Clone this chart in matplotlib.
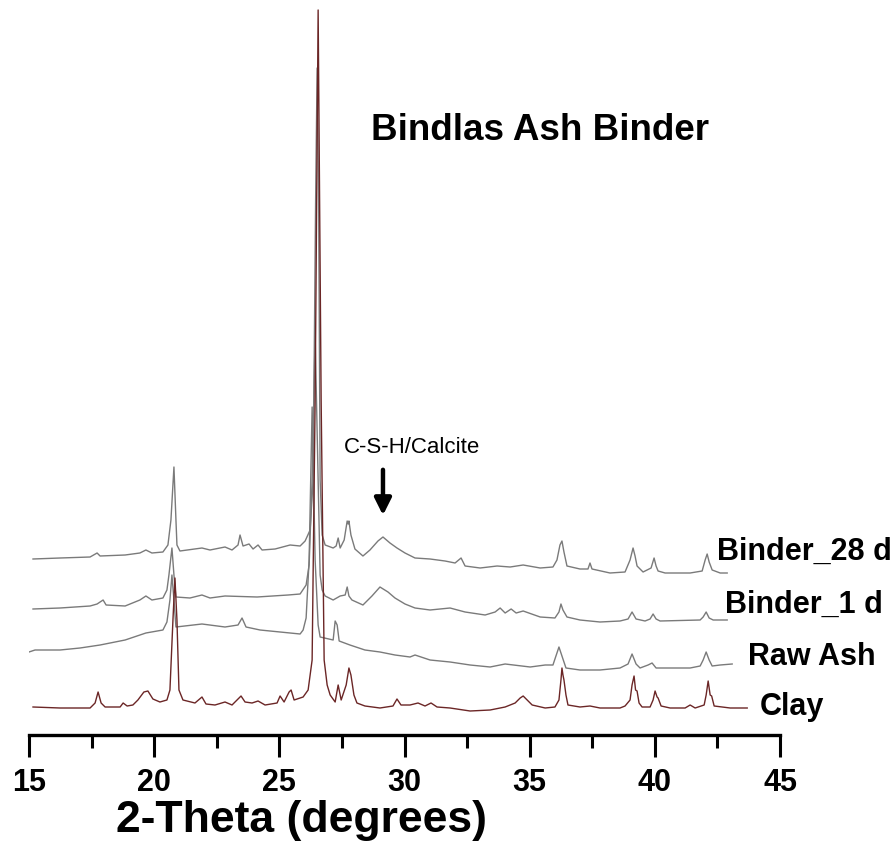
import matplotlib
matplotlib.use('Agg')
import matplotlib.pyplot as plt

plt.rcParams['font.family'] = ['Liberation Sans', 'DejaVu Sans']

# XRD patterns (2-theta in degrees, intensity in a.u., already offset for stacking)
b28_tt = [15.16, 16.24, 17.44, 17.72, 17.84, 18.84, 19.43, 19.67, 19.91, 20.35, 20.55, 20.67, 20.79, 20.87, 20.91,
          21.03, 21.91, 22.23, 22.83, 23.11, 23.35, 23.43, 23.55, 23.79, 23.95, 24.15, 24.31, 24.83, 25.43, 25.83,
          26.03, 26.23, 26.35, 26.45, 26.51, 26.57, 26.63, 26.71, 26.83, 27.15, 27.27, 27.35, 27.43, 27.59, 27.71,
          27.75, 27.78, 27.86, 28.02, 28.34, 28.62, 28.94, 29.14, 29.42, 29.70, 30.02, 30.42, 31.02, 31.62, 32.02,
          32.26, 32.42, 33.02, 33.70, 34.22, 34.74, 35.42, 35.93, 36.09, 36.21, 36.29, 36.37, 36.49, 37.01, 37.33,
          37.41, 37.49, 38.21, 38.81, 39.01, 39.13, 39.21, 39.29, 39.53, 39.85, 39.97, 40.05, 40.13, 40.41, 41.41,
          41.89, 42.01, 42.09, 42.17, 42.29, 42.61, 42.89]
b28_i = [176, 177, 178, 182, 179, 180, 182, 185, 182, 183, 190, 215, 268, 215, 190,
         184, 187, 185, 188, 185, 190, 200, 189, 191, 186, 190, 185, 186, 190, 189,
         194, 205, 255, 535, 667, 535, 255, 200, 190, 187, 189, 197, 187, 195, 214,
         211, 214, 200, 186, 179, 185, 194, 198, 192, 187, 182, 177, 176, 174, 172,
         177, 169, 167, 169, 168, 170, 167, 168, 175, 190, 194, 183, 169, 166, 166,
         172, 166, 162, 163, 175, 187, 179, 169, 163, 167, 177, 169, 164, 162, 162,
         164, 175, 181, 173, 165, 162, 162]

b1_tt = [15.16, 16.24, 17.44, 17.72, 17.96, 18.08, 18.84, 19.43, 19.67, 19.91, 20.35, 20.51, 20.59, 20.71, 20.79,
         20.87, 21.43, 21.91, 22.23, 22.83, 24.11, 25.35, 25.83, 26.07, 26.19, 26.31, 26.43, 26.55, 26.63, 26.71,
         26.83, 27.15, 27.43, 27.63, 27.71, 27.78, 27.90, 28.34, 28.70, 29.02, 29.34, 29.62, 30.02, 30.42, 31.02,
         31.82, 32.42, 33.22, 33.62, 33.82, 34.02, 34.26, 34.46, 34.74, 35.42, 36.01, 36.17, 36.25, 36.33, 36.49,
         37.01, 37.81, 38.61, 38.93, 39.09, 39.25, 39.61, 39.81, 39.93, 40.05, 40.21, 41.81, 41.93, 42.05, 42.17,
         42.33, 42.89]
b1_i = [126, 127, 129, 131, 135, 130, 129, 135, 139, 135, 137, 145, 160, 187, 160,
        138, 137, 140, 137, 139, 138, 140, 141, 150, 170, 255, 400, 255, 160, 145,
        139, 135, 139, 140, 148, 139, 135, 130, 139, 148, 143, 137, 131, 127, 125,
        127, 123, 120, 123, 127, 122, 126, 122, 124, 118, 117, 123, 131, 125, 118,
        115, 113, 114, 116, 123, 116, 114, 116, 121, 116, 114, 115, 118, 123, 117,
        115, 115]

raw_tt = [15.0, 15.24, 16.24, 17.04, 17.84, 18.84, 19.67, 20.35, 20.51, 20.63, 20.71, 20.79, 20.87, 21.91, 22.83,
          23.35, 23.51, 23.67, 24.23, 25.43, 25.83, 25.95, 26.07, 26.19, 26.31, 26.43, 26.55, 26.63, 27.15, 27.23,
          27.31, 27.39, 27.82, 28.42, 29.02, 29.62, 30.22, 30.42, 31.02, 31.82, 32.62, 33.42, 34.02, 35.02, 35.62,
          35.93, 36.05, 36.17, 36.29, 36.45, 37.01, 37.81, 38.61, 38.93, 39.09, 39.25, 39.41, 39.73, 39.89, 40.05,
          41.41, 41.81, 41.93, 42.05, 42.17, 42.29, 42.61, 43.09]
raw_i = [83, 85, 85, 87, 90, 95, 102, 105, 113, 135, 160, 135, 108, 111, 108,
         110, 117, 108, 105, 102, 101, 105, 117, 175, 328, 175, 110, 98, 95, 114,
         110, 94, 90, 85, 83, 80, 78, 80, 75, 73, 70, 68, 71, 68, 70,
         70, 79, 88, 79, 67, 65, 65, 67, 71, 81, 71, 67, 70, 72, 67,
         67, 69, 75, 83, 75, 69, 70, 71]

clay_tt = [15.16, 16.24, 17.44, 17.64, 17.76, 17.88, 18.04, 18.64, 18.76, 18.92, 19.15, 19.35, 19.59, 19.75, 19.95,
           20.23, 20.51, 20.63, 20.75, 20.83, 20.91, 20.99, 21.15, 21.63, 21.91, 22.07, 22.43, 22.83, 23.11, 23.47,
           23.63, 23.91, 24.15, 24.43, 24.91, 25.03, 25.19, 25.39, 25.47, 25.59, 25.95, 26.15, 26.31, 26.43, 26.55,
           26.67, 26.79, 26.91, 27.03, 27.23, 27.35, 27.47, 27.55, 27.67, 27.78, 27.86, 27.98, 28.10, 28.42, 29.02,
           29.54, 29.70, 29.86, 30.22, 30.54, 30.82, 31.06, 31.30, 31.82, 32.62, 33.42, 34.02, 34.42, 34.62, 34.74,
           34.90, 35.10, 35.62, 36.01, 36.17, 36.25, 36.29, 36.33, 36.37, 36.45, 36.53, 37.01, 37.41, 37.81, 38.61,
           38.81, 39.01, 39.09, 39.17, 39.23, 39.29, 39.37, 39.49, 39.81, 39.93, 40.01, 40.09, 40.13, 40.25, 40.61,
           41.21, 41.41, 41.61, 41.97, 42.05, 42.13, 42.21, 42.27, 42.37, 43.01, 43.69]
clay_i = [28, 27, 27, 32, 43, 32, 28, 28, 32, 29, 30, 35, 43, 44, 36,
          33, 35, 45, 115, 157, 115, 45, 35, 32, 38, 31, 30, 33, 30, 39,
          33, 32, 34, 30, 32, 39, 33, 43, 45, 35, 38, 45, 75, 335, 725,
          335, 75, 50, 40, 33, 50, 35, 41, 50, 67, 60, 40, 32, 29, 27,
          29, 36, 30, 30, 32, 29, 32, 28, 27, 24, 25, 28, 32, 37, 39,
          35, 30, 27, 28, 35, 55, 67, 60, 55, 40, 30, 28, 29, 27, 27,
          29, 35, 50, 59, 45, 44, 32, 28, 28, 35, 44, 38, 37, 29, 27,
          27, 30, 27, 30, 40, 54, 40, 39, 29, 27, 27]

sample_names = ['Binder_28 d', 'Binder_1 d', 'Raw Ash', 'Clay']

grey = '#7a7a7a'
clay_col = '#6b2626'

fig = plt.figure(figsize=(8.96, 8.56), dpi=100)
ax = fig.add_axes([29 / 896, 121 / 856, 751 / 896, 735 / 856])

ax.plot(raw_tt, raw_i, color=grey, lw=1.0)
ax.plot(b1_tt, b1_i, color=grey, lw=1.0)
ax.plot(b28_tt, b28_i, color=grey, lw=1.0)
ax.plot(clay_tt, clay_i, color=clay_col, lw=1.0)

ax.set_xlim(15, 45)
ax.set_ylim(0, 735)
ax.set_yticks([])
for s in ['left', 'right', 'top']:
    ax.spines[s].set_visible(False)
ax.spines['bottom'].set_linewidth(2.4)
ax.set_xticks([15, 20, 25, 30, 35, 40, 45])
ax.set_xticks([17.5, 22.5, 27.5, 32.5, 37.5, 42.5], minor=True)
ax.tick_params(axis='x', which='major', direction='out', length=16, width=2.2, pad=8,
               labelsize=22)
ax.tick_params(axis='x', which='minor', direction='out', length=9.5, width=2.2)
for lab in ax.get_xticklabels():
    lab.set_fontweight('bold')
ax.set_xlabel('2-Theta (degrees)', fontsize=32, fontweight='bold')
ax.xaxis.set_label_coords(0.363, -0.088)

ax.text(35.4, 605, 'Bindlas Ash Binder', fontsize=26.5, fontweight='bold', ha='center', va='center')
ax.text(30.3, 288, 'C-S-H/Calcite', fontsize=16, ha='center', va='center')
ax.annotate('', xy=(29.14, 217), xytext=(29.14, 268),
            arrowprops=dict(arrowstyle='-|>,head_width=0.5,head_length=1.0', lw=3.2, color='black'))

label_x = [42.49, 42.81, 43.73, 44.2]
label_y = [183, 130, 78, 28]
for name, lx, ly in zip(sample_names, label_x, label_y):
    ax.text(lx, ly, name, fontsize=22, fontweight='bold', ha='left', va='center', clip_on=False)

plt.savefig('out.png', dpi=100)
plt.close()
